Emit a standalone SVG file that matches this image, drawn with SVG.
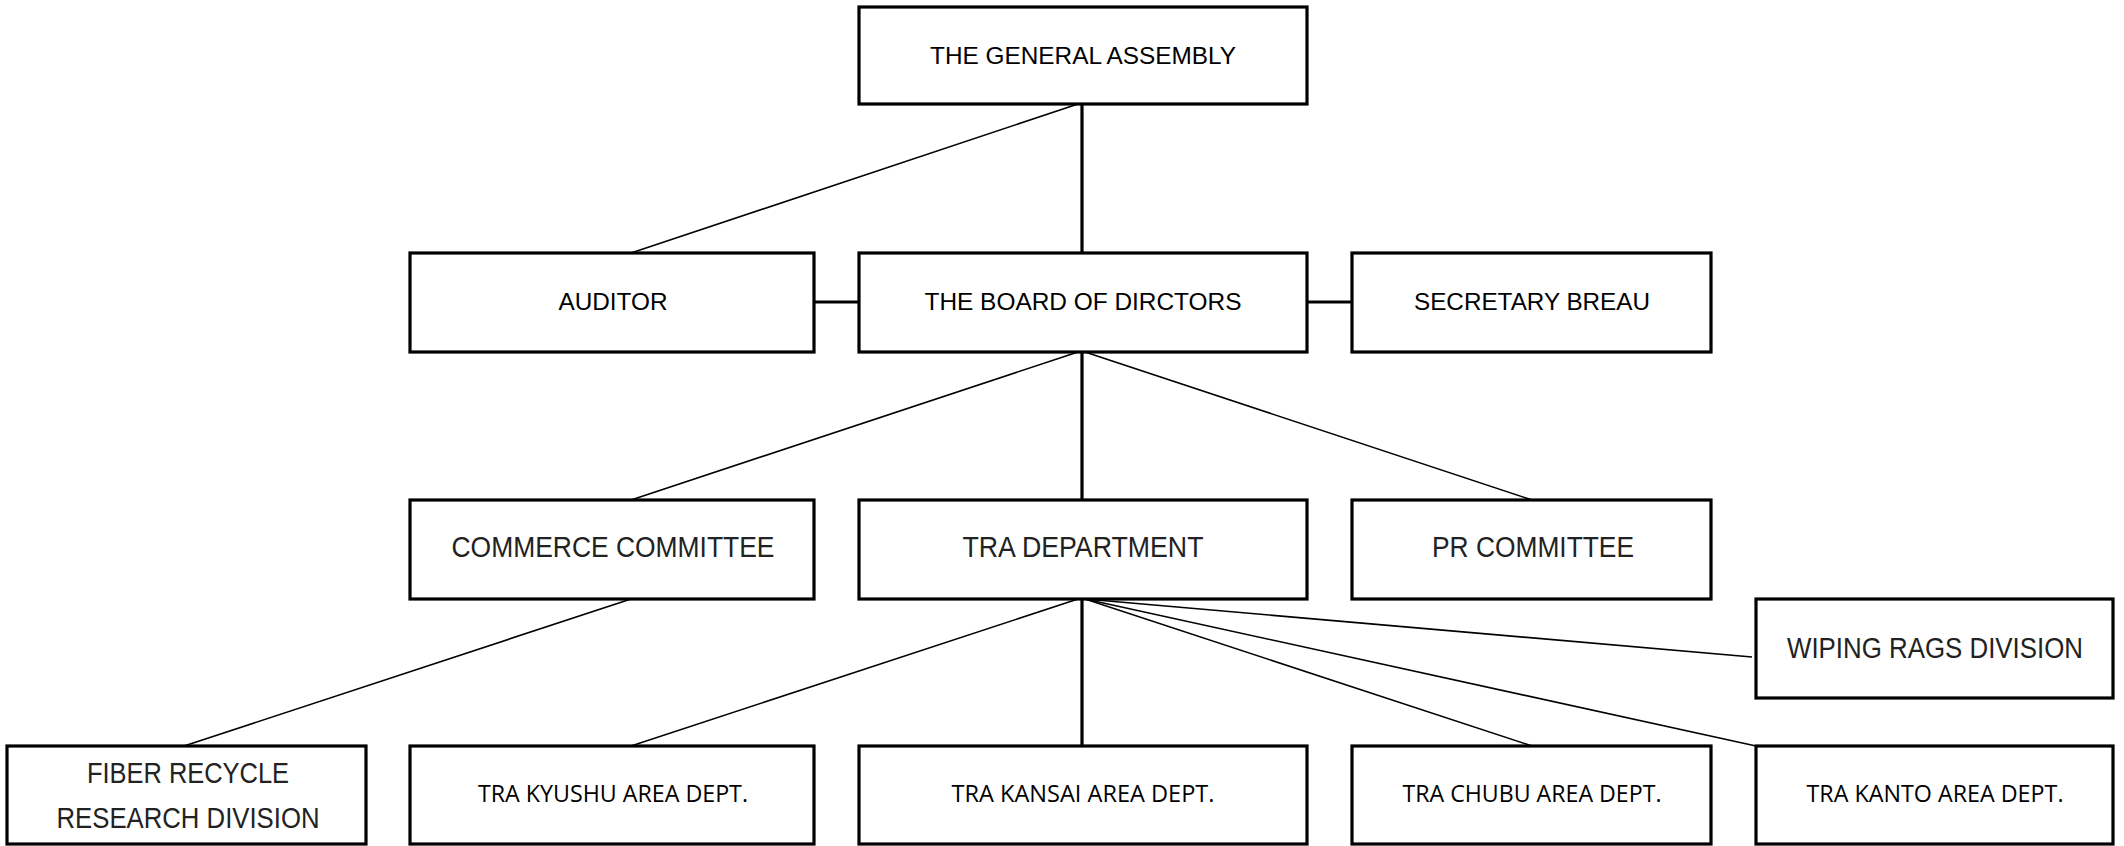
<svg xmlns="http://www.w3.org/2000/svg" width="2124" height="846" viewBox="0 0 2124 846">
<style>
.box{fill:#fff;stroke:#000;stroke-width:3.2}
.thick{stroke:#000;stroke-width:3.2;fill:none}
.thin{stroke:#000;stroke-width:1.6;fill:none}
.t1{font-family:"Liberation Sans",Arial,sans-serif;font-size:24px;fill:#000;text-anchor:middle}
.t2{font-family:"Liberation Sans Narrow","Liberation Sans",Arial,sans-serif;font-size:29px;fill:#222;text-anchor:middle}
.t3{font-family:"Open Sans","Noto Sans",sans-serif;font-size:24px;fill:#000;text-anchor:middle}
</style>
<rect width="2124" height="846" fill="#fff"/>
<g id="connectors">
<line class="thick" x1="1082" y1="104" x2="1082" y2="253"/>
<line class="thin" x1="1078" y1="104" x2="631" y2="253"/>
<line class="thick" x1="814" y1="302" x2="859" y2="302"/>
<line class="thick" x1="1307" y1="302" x2="1352" y2="302"/>
<line class="thick" x1="1082" y1="352" x2="1082" y2="500"/>
<line class="thin" x1="1078" y1="352" x2="631" y2="500"/>
<line class="thin" x1="1085" y1="352" x2="1532" y2="500"/>
<line class="thin" x1="631" y1="599" x2="184" y2="746"/>
<line class="thin" x1="1078" y1="599" x2="631" y2="746"/>
<line class="thick" x1="1082" y1="599" x2="1082" y2="746"/>
<line class="thin" x1="1085" y1="599" x2="1532" y2="746"/>
<line class="thin" x1="1085" y1="599" x2="1756" y2="746"/>
<line class="thin" x1="1085" y1="599" x2="1752" y2="657"/>
</g>
<g id="general-assembly"><rect class="box" x="859" y="7" width="448" height="97"/><text class="t1" x="1083" y="64" textLength="306" lengthAdjust="spacingAndGlyphs">THE GENERAL ASSEMBLY</text></g>
<g id="auditor"><rect class="box" x="410" y="253" width="404" height="99"/><text class="t1" x="613" y="310" textLength="109" lengthAdjust="spacingAndGlyphs">AUDITOR</text></g>
<g id="board"><rect class="box" x="859" y="253" width="448" height="99"/><text class="t1" x="1083" y="310" textLength="317" lengthAdjust="spacingAndGlyphs">THE BOARD OF DIRCTORS</text></g>
<g id="secretary"><rect class="box" x="1352" y="253" width="359" height="99"/><text class="t1" x="1532" y="310" textLength="236" lengthAdjust="spacingAndGlyphs">SECRETARY BREAU</text></g>
<g id="commerce"><rect class="box" x="410" y="500" width="404" height="99"/><text class="t2" x="613" y="557" textLength="323" lengthAdjust="spacingAndGlyphs">COMMERCE COMMITTEE</text></g>
<g id="tra"><rect class="box" x="859" y="500" width="448" height="99"/><text class="t2" x="1083" y="557" textLength="241" lengthAdjust="spacingAndGlyphs">TRA DEPARTMENT</text></g>
<g id="pr"><rect class="box" x="1352" y="500" width="359" height="99"/><text class="t2" x="1533" y="557" textLength="202" lengthAdjust="spacingAndGlyphs">PR COMMITTEE</text></g>
<g id="wiping"><rect class="box" x="1756" y="599" width="357" height="99"/><text class="t2" x="1935" y="658" textLength="296" lengthAdjust="spacingAndGlyphs">WIPING RAGS DIVISION</text></g>
<g id="fiber"><rect class="box" x="7" y="746" width="359" height="98"/><text class="t2" x="188" y="783" textLength="202" lengthAdjust="spacingAndGlyphs">FIBER RECYCLE</text><text class="t2" x="188" y="828" textLength="263" lengthAdjust="spacingAndGlyphs">RESEARCH DIVISION</text></g>
<g id="kyushu"><rect class="box" x="410" y="746" width="404" height="98"/><text class="t3" x="613" y="802" textLength="270" lengthAdjust="spacingAndGlyphs">TRA KYUSHU AREA DEPT.</text></g>
<g id="kansai"><rect class="box" x="859" y="746" width="448" height="98"/><text class="t3" x="1083" y="802" textLength="263" lengthAdjust="spacingAndGlyphs">TRA KANSAI AREA DEPT.</text></g>
<g id="chubu"><rect class="box" x="1352" y="746" width="359" height="98"/><text class="t3" x="1532" y="802" textLength="259" lengthAdjust="spacingAndGlyphs">TRA CHUBU AREA DEPT.</text></g>
<g id="kanto"><rect class="box" x="1756" y="746" width="357" height="98"/><text class="t3" x="1935" y="802" textLength="257" lengthAdjust="spacingAndGlyphs">TRA KANTO AREA DEPT.</text></g>
</svg>
